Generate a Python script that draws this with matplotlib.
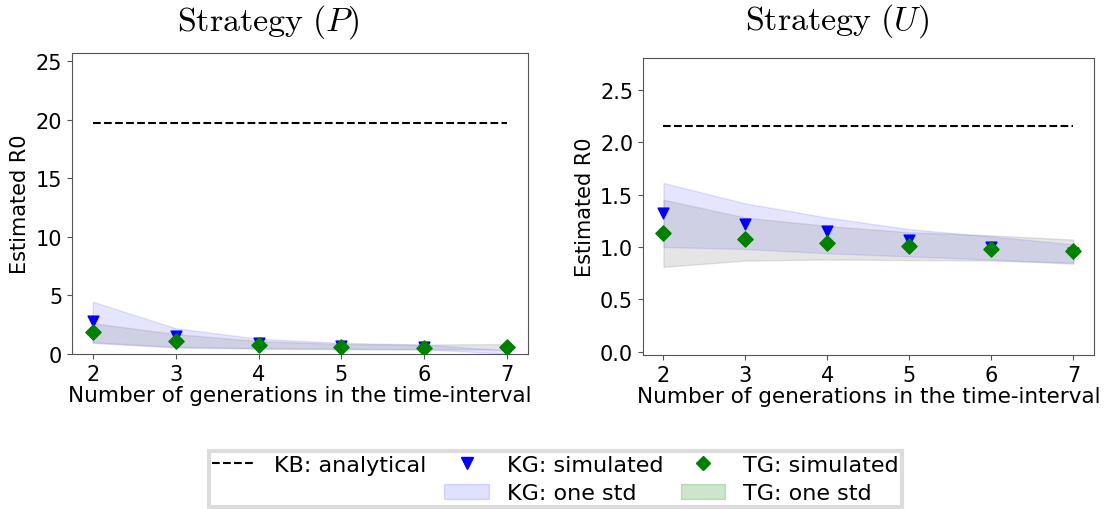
import numpy as np
import matplotlib
matplotlib.use('Agg')
import matplotlib.pyplot as plt
from matplotlib.lines import Line2D
from matplotlib.patches import Patch

plt.rcParams['mathtext.fontset'] = 'cm'
plt.rcParams['font.size'] = 15

gens = [2, 3, 4, 5, 6, 7]

# Strategy (P)
kb_p = 19.7
kg_p = [2.82, 1.55, 0.93, 0.70, 0.60, 0.25]
kg_p_hi = [4.46, 2.20, 1.30, 0.95, 0.80, 0.30]
kg_p_lo = [0.95, 0.55, 0.45, 0.40, 0.40, 0.02]
tg_p = [1.86, 1.13, 0.79, 0.62, 0.55, 0.62]
tg_p_hi = [2.63, 1.70, 1.10, 0.85, 0.80, 0.85]
tg_p_lo = [1.00, 0.60, 0.50, 0.45, 0.40, 0.40]

# Strategy (U)
kb_u = 2.15
kg_u = [1.32, 1.22, 1.15, 1.07, 1.00, 0.94]
kg_u_hi = [1.61, 1.415, 1.28, 1.17, 1.10, 1.025]
kg_u_lo = [1.00, 0.98, 0.94, 0.91, 0.88, 0.84]
tg_u = [1.13, 1.08, 1.04, 1.01, 0.98, 0.96]
tg_u_hi = [1.45, 1.28, 1.20, 1.14, 1.11, 1.07]
tg_u_lo = [0.81, 0.87, 0.88, 0.875, 0.87, 0.85]

fig = plt.figure(figsize=(11.04, 5.10), dpi=100)
ax1 = fig.add_axes([0.0652, 0.304, 0.413, 0.590])
ax2 = fig.add_axes([0.5824, 0.302, 0.4085, 0.582])

def draw(ax, kb, kg, kg_hi, kg_lo, tg, tg_hi, tg_lo, title, ty):
    ax.plot([gens[0], gens[-1]], [kb, kb], 'k--', lw=1.5)
    ax.fill_between(gens, kg_lo, kg_hi, color='blue', alpha=0.1)
    ax.fill_between(gens, tg_lo, tg_hi, color='grey', alpha=0.2)
    ax.scatter(gens, kg, marker='v', color='blue', s=60, zorder=3)
    ax.scatter(gens, tg, marker='D', color='green', s=60, zorder=4)
    ax.set_title(title, fontsize=24.5, x=0.43, y=ty)
    ax.set_xlabel('Number of generations in the time-interval', fontsize=15.5, labelpad=1)
    ax.set_ylabel('Estimated R0', fontsize=15)
    ax.set_xlim(1.75, 7.25)
    ax.set_xticks(gens)
    for s in ax.spines.values():
        s.set_color('#555555')
    ax.tick_params(colors='#555555', labelcolor='black', labelsize=15)

draw(ax1, kb_p, kg_p, kg_p_hi, kg_p_lo, tg_p, tg_p_hi, tg_p_lo, r'$\mathrm{Strategy}\ (P)$', 1.052)
ax1.set_ylim(0, 25.7)
ax1.set_yticks([0, 5, 10, 15, 20, 25])

draw(ax2, kb_u, kg_u, kg_u_hi, kg_u_lo, tg_u, tg_u_hi, tg_u_lo, r'$\mathrm{Strategy}\ (U)$', 1.072)
ax2.set_ylim(-0.03, 2.8)
ax2.set_yticks([0.0, 0.5, 1.0, 1.5, 2.0, 2.5])

handles = [Line2D([], [], color='k', ls='--', lw=1.5),
           Line2D([], [], ls='', marker=None),
           Line2D([], [], ls='', marker='v', color='blue', markersize=8),
           Patch(facecolor='blue', alpha=0.12, edgecolor='blue'),
           Line2D([], [], ls='', marker='D', color='green', markersize=7),
           Patch(facecolor='green', alpha=0.2, edgecolor='green')]
labels = ['KB: analytical', '', 'KG: simulated', 'KG: one std', 'TG: simulated', 'TG: one std']
leg = fig.legend(handles, labels, loc='lower center', bbox_to_anchor=(0.503, 0.0), ncol=3,
                 fontsize=16, fancybox=False, frameon=True, handlelength=2,
                 columnspacing=0.8, labelspacing=0.4, borderpad=0.15, borderaxespad=0.1)
leg.get_frame().set_edgecolor('#d4d4d4')
leg.get_frame().set_linewidth(3)

fig.savefig('out.png', dpi=100)
